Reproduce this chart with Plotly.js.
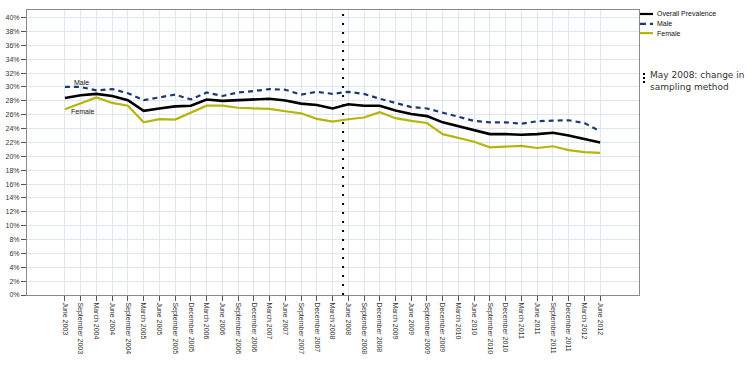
<!DOCTYPE html>
<html>
<head>
<meta charset="utf-8">
<script src="https://cdn.plot.ly/plotly-3.0.1.min.js"></script>
<style>html,body{margin:0;padding:0;background:#fff}#chart{width:754px;height:366px}</style>
</head>
<body>
<div id="chart"></div>
<script>
const categories = ["June 2003","September 2003","March 2004","June 2004","September 2004","March 2005","June 2005","September 2005","December 2005","March 2006","June 2006","September 2006","December 2006","March 2007","June 2007","September 2007","December 2007","March 2008","June 2008","September 2008","December 2008","March 2009","June 2009","September 2009","December 2009","March 2010","June 2010","September 2010","December 2010","March 2011","June 2011","September 2011","December 2011","March 2012","June 2012"];
const overall = [28.4,28.8,29.0,28.7,28.1,26.55,26.9,27.2,27.3,28.2,28.0,28.1,28.2,28.3,28.05,27.6,27.4,26.9,27.5,27.3,27.3,26.6,26.1,25.8,24.9,24.3,23.7,23.2,23.2,23.1,23.2,23.4,23.0,22.55,22.0];
const male = [30.0,30.0,29.5,29.7,29.1,28.1,28.5,28.9,28.2,29.2,28.7,29.2,29.4,29.7,29.6,28.9,29.3,29.0,29.3,29.0,28.3,27.7,27.1,26.9,26.3,25.75,25.1,24.9,24.9,24.7,25.05,25.15,25.2,24.8,23.6];
const female = [26.8,27.7,28.5,27.7,27.3,24.9,25.35,25.3,26.3,27.3,27.3,27.0,26.9,26.85,26.5,26.2,25.4,25.0,25.35,25.6,26.35,25.5,25.1,24.8,23.2,22.7,22.1,21.3,21.4,21.5,21.2,21.45,20.9,20.6,20.5];
const seriesNames = ["Overall Prevalence","Male","Female"];
const seriesColors = ['#000000','#1c3a72','#b5b50a'];
const seriesDash = ['solid','5px,4px','solid'];
const seriesWidth = [2.6, 2.2, 2.2];
const changeIndex = 17.67; // May 2008, between March 2008 and June 2008

const seriesValues = [overall, male, female];
const traces = seriesValues.map((vals, k) => ({
  x: categories, y: vals, name: seriesNames[k], type: 'scatter', mode: 'lines',
  line: {color: seriesColors[k], width: seriesWidth[k], dash: seriesDash[k]}, showlegend: false
}));

// custom compact legend (paper coords)
const legendY = [0.986, 0.951, 0.919];
const legendShapes = seriesNames.map((n, k) => ({
  type: 'line', xref: 'paper', yref: 'paper', x0: 1.0016, x1: 1.0229, y0: legendY[k], y1: legendY[k],
  line: {color: seriesColors[k], width: 2.2, dash: k === 1 ? '6px,4px' : 'solid'}
}));
const legendAnn = seriesNames.map((n, k) => ({
  xref: 'paper', yref: 'paper', x: 1.0255, y: legendY[k], text: n, showarrow: false,
  xanchor: 'left', yanchor: 'middle', font: {size: 7, color: '#111'}
}));

const layout = {
  width: 754, height: 366,
  margin: {l: 27, r: 115, t: 10, b: 71, pad: 0},
  paper_bgcolor: '#ffffff', plot_bgcolor: '#ffffff',
  font: {family: 'Liberation Sans, Arial, sans-serif', size: 7, color: '#333333'},
  showlegend: false,
  xaxis: {
    type: 'category', range: [-2.41, 36.47],
    tickangle: 90, ticks: 'outside', ticklen: 5, tickcolor: '#555',
    showgrid: true, gridcolor: '#dfe6ee', gridwidth: 1,
    showline: true, linecolor: '#8a8a8a', linewidth: 1, mirror: true,
    tickfont: {size: 7, color: '#333'}, zeroline: false, automargin: false
  },
  yaxis: {
    range: [0, 41.1], dtick: 2, tick0: 0, ticksuffix: '%',
    ticks: 'outside', ticklen: 5, tickcolor: '#555',
    showgrid: true, gridcolor: '#dfe6ee', gridwidth: 1,
    showline: true, linecolor: '#8a8a8a', linewidth: 1, mirror: true,
    tickfont: {size: 7, color: '#333'}, zeroline: false, automargin: false
  },
  shapes: [
    {type: 'line', xref: 'x', yref: 'paper', x0: changeIndex, x1: changeIndex, y0: 0, y1: 1,
     line: {color: '#000', width: 2, dash: '2px,7px'}},
    {type: 'line', xref: 'paper', yref: 'paper', x0: 1.0082, x1: 1.0082, y0: 0.744, y1: 0.785,
     line: {color: '#000', width: 2, dash: '2px,2px'}}
  ].concat(legendShapes),
  annotations: [
    {xref: 'x', yref: 'y', x: 0.45, y: 30.7, text: 'Male', showarrow: false, xanchor: 'left', yanchor: 'middle', font: {size: 7, color: '#111'}},
    {xref: 'x', yref: 'y', x: 0.25, y: 26.5, text: 'Female', showarrow: false, xanchor: 'left', yanchor: 'middle', font: {size: 7, color: '#111'}},
    {xref: 'paper', yref: 'paper', x: 1.0147, y: 0.795, text: 'May 2008: change in<br>sampling method', showarrow: false, xanchor: 'left', yanchor: 'top', align: 'left', font: {family: 'DejaVu Sans, Verdana, sans-serif', size: 9, color: '#333'}}
  ].concat(legendAnn)
};

Plotly.newPlot('chart', traces, layout, {displayModeBar: false, staticPlot: true});
</script>
</body>
</html>
